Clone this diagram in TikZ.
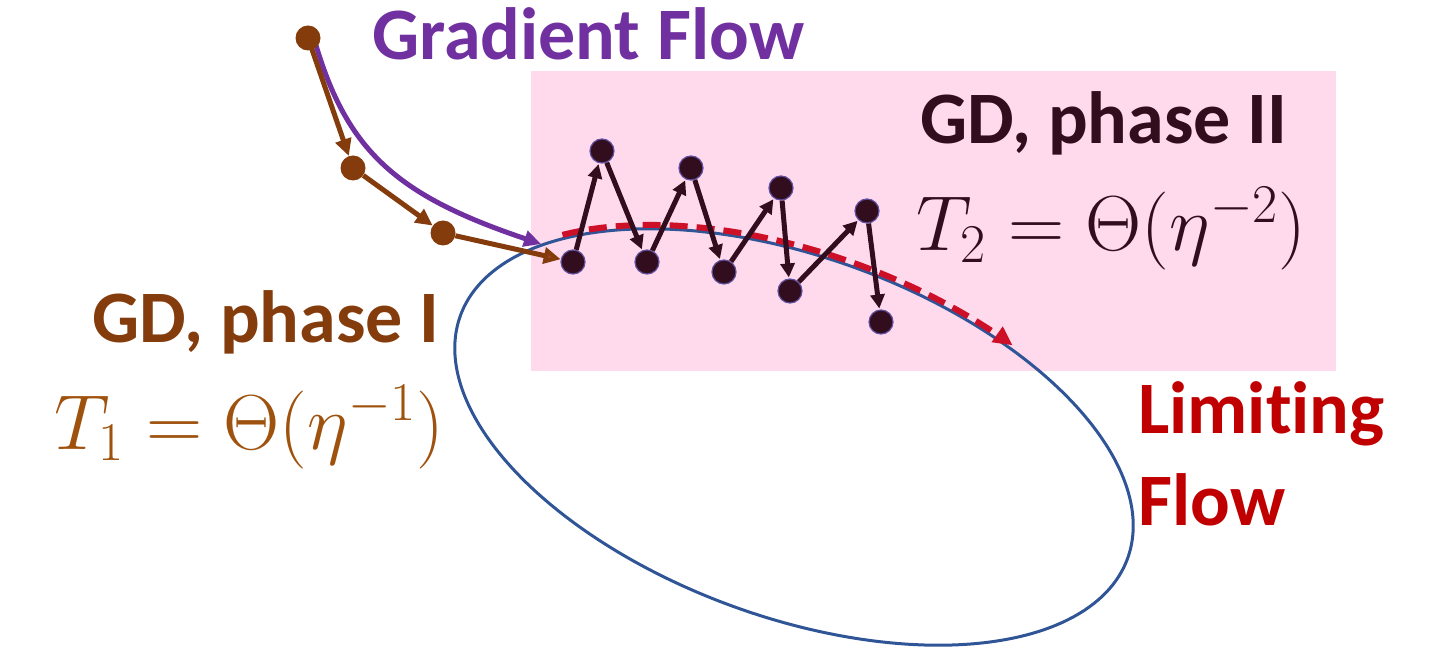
\RequirePackage{fix-cm}
\documentclass[tikz,border=0pt]{standalone}
\usepackage{fontspec}
\setmainfont[Ligatures=CommonOff]{Carlito}
\usetikzlibrary{arrows.meta}
\definecolor{pinkbg}{RGB}{255,217,236}
\definecolor{gfpurple}{RGB}{112,48,160}
\definecolor{gdbrown}{RGB}{132,60,12}
\definecolor{tbrown}{RGB}{158,82,14}
\definecolor{tipbrown}{RGB}{165,72,45}
\definecolor{dotdark}{RGB}{50,13,30}
\definecolor{dotrim}{RGB}{95,80,160}
\definecolor{ellblue}{RGB}{47,85,151}
\definecolor{limred}{RGB}{192,0,0}
\definecolor{dashred}{RGB}{205,16,40}
\begin{document}
\begin{tikzpicture}[x=1pt,y=-1pt,
  bdot/.style={circle,fill=gdbrown,inner sep=0pt,minimum size=25pt},
  kdot/.style={circle,fill=dotdark,draw=dotrim,line width=1.2pt,inner sep=0pt,minimum size=24pt},
  brarrow/.style={draw=gdbrown,line width=5pt,-{Triangle[length=17pt,width=16pt]}},
  karrow/.style={draw=dotdark,line width=5pt,shorten >=1pt,-{Triangle[length=14pt,width=14pt]}},
  lbl/.style={anchor=base west,inner sep=0pt},
  bigbf/.style={font=\bfseries\fontsize{74}{88}\selectfont},
  bigmath/.style={font=\fontsize{78}{88}\selectfont}
]
\useasboundingbox (0,0) rectangle (1441,652);
% pink region
\fill[pinkbg] (531,71) rectangle (1336,371);
% ellipse
\draw[ellblue,line width=3pt] plot[smooth cycle,domain=0:357,samples=120]
  ({794+355*cos(\x)*cos(20)-180*sin(\x)*sin(20)},{437+355*cos(\x)*sin(20)+180*sin(\x)*cos(20)});
% limiting flow (red dashed)
\draw[dashred,line width=6pt,dash pattern=on 18pt off 9pt,-{Triangle[length=19pt,width=18pt]}]
  plot[smooth,domain=217:299,samples=40]
  ({794+359*cos(\x)*cos(20)-184*sin(\x)*sin(20)},{437+359*cos(\x)*sin(20)+184*sin(\x)*cos(20)});
% gradient flow
\coordinate (gfstart) at (313,35);
\coordinate (gfend) at (541,244);
\draw[gfpurple,line width=5pt,-{Triangle[length=17pt,width=16pt]}]
  (gfstart) .. controls (345,150) and (395,195) .. (gfend);
% GD phase I
\node[bdot] (b1) at (308,38) {};
\node[bdot] (b2) at (353,168) {};
\node[bdot] (b3) at (443,233) {};
% GD phase II
\node[kdot] (k1) at (573,262) {};
\node[kdot] (k2) at (602,151) {};
\node[kdot] (k3) at (647,262) {};
\node[kdot] (k4) at (691,168) {};
\node[kdot] (k5) at (724,272) {};
\node[kdot] (k6) at (781,188) {};
\node[kdot] (k7) at (790,291) {};
\node[kdot] (k8) at (867,211) {};
\node[kdot] (k9) at (881,322) {};
\draw[brarrow] (b1.center) -- (b2);
\draw[brarrow] (b2) -- (b3);
\draw[brarrow,-{Triangle[length=17pt,width=16pt,fill=tipbrown]}] (b3) -- (k1);
\foreach \a/\b in {k1/k2,k2/k3,k3/k4,k4/k5,k5/k6,k6/k7,k7/k8,k8/k9}
  \draw[karrow] (\a) -- (\b);
% labels
\node[lbl,bigbf,text=gfpurple] (gf) at (372,60) {Gradient Flow};
\node[lbl,bigbf,text=dotdark] (p2) at (920,144) {GD, phase II};
\node[lbl,bigmath,text=dotdark] (t2) at (916,251) {$T_2=\Theta(\eta^{-2})$};
\node[lbl,bigmath,text=tbrown] (t1) at (54,449) {$T_1=\Theta(\eta^{-1})$};
\node[lbl,bigbf,text=gdbrown] (p1) at (92,343) {GD, phase I};
\node[lbl,bigbf,text=limred] (lim) at (1138,433) {Limiting};
\node[lbl,bigbf,text=limred] (flow) at (1138,525) {Flow};
\end{tikzpicture}
\end{document}
